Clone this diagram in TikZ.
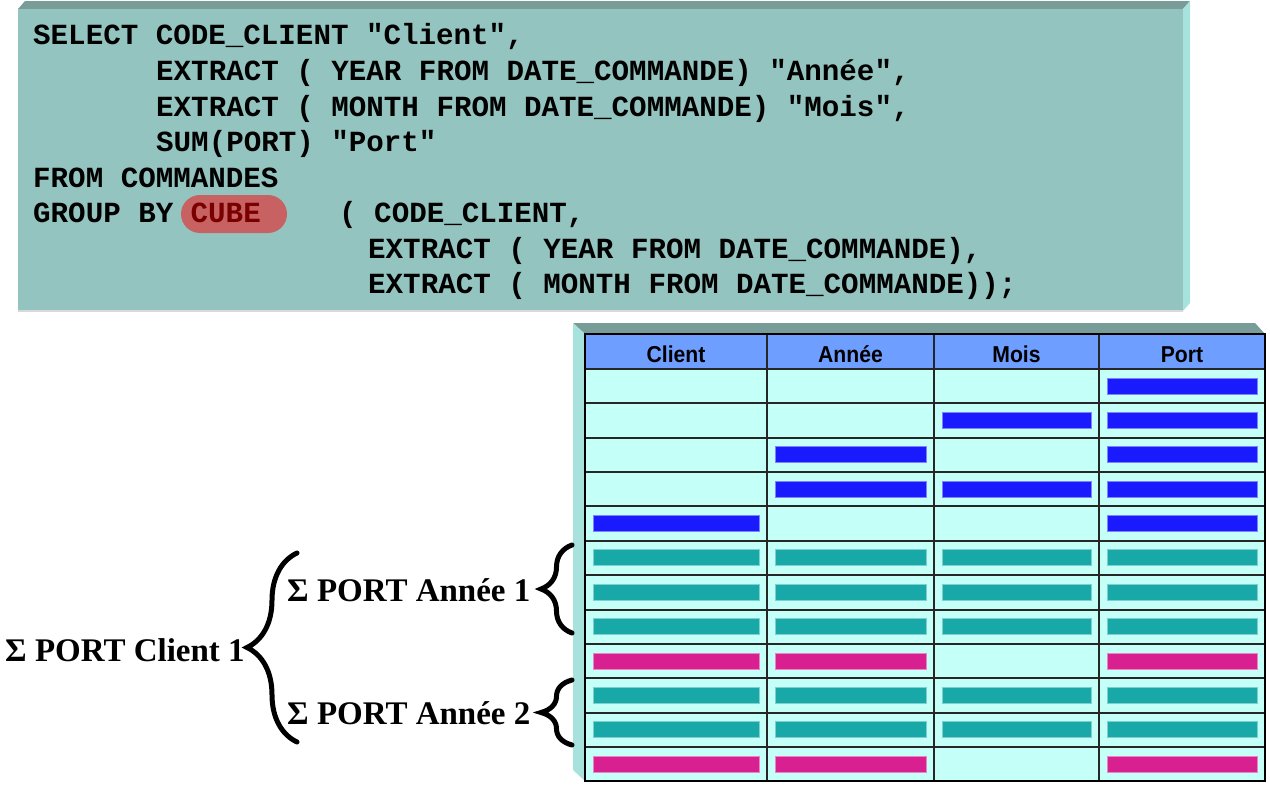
\documentclass[tikz,border=0pt]{standalone}
\usepackage{fontspec}
\setmainfont{Liberation Serif}
\newfontfamily\sqlfont{Liberation Mono}
\newfontfamily\headfont{Liberation Sans}
\usetikzlibrary{calc, decorations.pathreplacing}
\definecolor{BoxFront}{RGB}{ 147, 196, 192 }
\definecolor{BoxTop}{RGB}{ 120, 156, 152 }
\definecolor{BoxSide}{RGB}{ 168, 226, 220 }
\definecolor{HeadBlue}{RGB}{ 110, 158, 255 }
\definecolor{CellCyan}{RGB}{ 196, 255, 248 }
\definecolor{BarBlue}{HTML}{1A1AFF}
\definecolor{BarTeal}{HTML}{18A8A8}
\definecolor{BarPink}{HTML}{D82090}
\definecolor{CubeRed}{HTML}{C86262}
\definecolor{CubeText}{HTML}{7A0000}
\def\ColEdges{{585,767,934,1099,1265}}
\NewDocumentCommand{\CellBar}{O{BarTeal} m m}{
    \pgfmathsetmacro{\xl}{\ColEdges[#2-1]+8}
    \pgfmathsetmacro{\xr}{\ColEdges[#2]-8}
    \pgfmathsetmacro{\yc}{369+34.36*(#3-0.5)}
    \draw[#1!55!white, fill=#1, line width=1pt] (\xl,\yc-8) rectangle (\xr,\yc+8);
}
\tikzset{
    sql/.style={anchor=base west, inner sep=0pt, font=\sqlfont\bfseries\fontsize{29.2}{35}\selectfont},
    head/.style={anchor=base, inner sep=0pt, xscale=0.92, font=\headfont\bfseries\fontsize{23}{27}\selectfont},
    sum/.style={anchor=base west, inner sep=0pt, font=\bfseries\fontsize{33}{38}\selectfont},
    curly/.style={decorate, line width=5pt, line cap=round, decoration={brace, amplitude=#1}},
}

\begin{document}
\begin{tikzpicture}[x=1pt, y=-1pt]
\useasboundingbox (0,0) rectangle (1270,787);

% SQL box
\fill[BoxTop] (18,9) -- (25,1) -- (1190,1) -- (1183,9) -- cycle;
\fill[BoxSide] (1183,9) -- (1190,1) -- (1190,303) -- (1183,311) -- cycle;
\fill[BoxFront] (18,9) rectangle (1183,311);
\draw[gray!30, line width=1.5pt] (18,311) -- (1183,311);

\fill[CubeRed, rounded corners=19pt] (181,195) rectangle (287,233);

\node[sql] (sql-select) at (33,45) {SELECT CODE\_CLIENT "Client",};
\node[sql] (sql-year) at (156,80.5) {EXTRACT ( YEAR FROM DATE\_COMMANDE) "Année",};
\node[sql] (sql-month) at (156,116) {EXTRACT ( MONTH FROM DATE\_COMMANDE) "Mois",};
\node[sql] (sql-sum) at (156,151.5) {SUM(PORT) "Port"};
\node[sql] (sql-from) at (33,187) {FROM COMMANDES};
\node[sql] (sql-group) at (33,222.5) {GROUP BY};
\node[sql, text=CubeText] (sql-cube) at (190.5,222.5) {CUBE};
\node[sql] (sql-client) at (339,222.5) {( CODE\_CLIENT,};
\node[sql] (sql-gyear) at (368,258) {EXTRACT ( YEAR FROM DATE\_COMMANDE),};
\node[sql] (sql-gmonth) at (368,293.5) {EXTRACT ( MONTH FROM DATE\_COMMANDE));};

% result table
\fill[BoxTop] (573,323) -- (1255,323) -- (1265,334) -- (585,334) -- cycle;
\fill[BoxSide] (573,323) -- (585,334) -- (585,781) -- (573,770) -- cycle;
\fill[CellCyan] (585,334) rectangle (1265,781);
\fill[HeadBlue] (585,334) rectangle (1265,369);

\node[head] (head-client) at (676,362) {Client};
\node[head] (head-year) at (850.5,362) {Année};
\node[head] (head-month) at (1016.5,362) {Mois};
\node[head] (head-port) at (1182,362) {Port};

\CellBar[BarBlue]{4}{1}
\CellBar[BarBlue]{3}{2}
\CellBar[BarBlue]{4}{2}
\CellBar[BarBlue]{2}{3}
\CellBar[BarBlue]{4}{3}
\CellBar[BarBlue]{2}{4}
\CellBar[BarBlue]{3}{4}
\CellBar[BarBlue]{4}{4}
\CellBar[BarBlue]{1}{5}
\CellBar[BarBlue]{4}{5}
\foreach \r in {6,7,8,10,11}{
    \foreach \c in {1,...,4}{
        \CellBar[BarTeal]{\c}{\r}
    }
}
\foreach \r in {9,12}{
    \CellBar[BarPink]{1}{\r}
    \CellBar[BarPink]{2}{\r}
    \CellBar[BarPink]{4}{\r}
}

\foreach \k in {0,...,11}
    \draw[black!85, line width=2pt] (585,{369+34.36*\k}) -- (1265,{369+34.36*\k});
\foreach \x in {767,934,1099}
    \draw[black!85, line width=2pt] (\x,334) -- (\x,781);
\draw[black, line width=2.5pt] (585,334) rectangle (1265,781);

% braces
\coordinate (client-top) at (297,553);
\coordinate (client-bot) at (297,742);
\coordinate (year1-top) at (572,545);
\coordinate (year1-bot) at (572,633);
\coordinate (year2-top) at (572,680);
\coordinate (year2-bot) at (572,745);

\draw[curly=50pt] (client-bot) -- (client-top);
\draw[curly=31pt] (year1-bot) -- (year1-top);
\draw[curly=31pt] (year2-bot) -- (year2-top);

\node[sum] (sum-client) at (5,661) {Σ PORT Client 1};
\node[sum] (sum-year1) at (287,601) {Σ PORT Année 1};
\node[sum] (sum-year2) at (287,724) {Σ PORT Année 2};

\end{tikzpicture}
\end{document}
